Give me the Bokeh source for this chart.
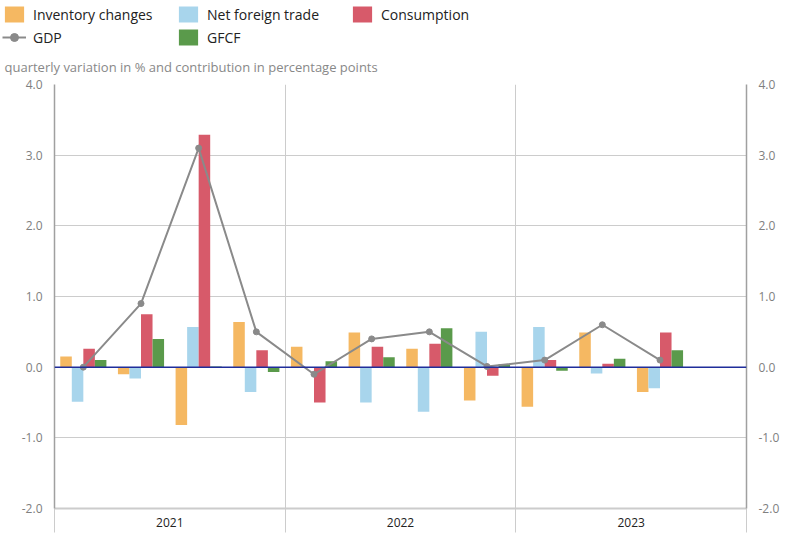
from bokeh.plotting import figure
from bokeh.layouts import column
from bokeh.models import (Range1d, FixedTicker, LinearAxis, Span, Legend, LegendItem,
                          Label, ColumnDataSource, NumeralTickFormatter, CustomJSTickFormatter)
from bokeh.transform import dodge
from bokeh.embed import file_html
from bokeh.resources import INLINE
import numpy as np

# ---- data ----
years = ["2021", "2022", "2023"]
quarters = ["2021-Q1", "2021-Q2", "2021-Q3", "2021-Q4",
            "2022-Q1", "2022-Q2", "2022-Q3", "2022-Q4",
            "2023-Q1", "2023-Q2", "2023-Q3"]
inventory = [0.15, -0.10, -0.82, 0.64, 0.29, 0.49, 0.26, -0.47, -0.56, 0.49, -0.35]
net_foreign = [-0.49, -0.16, 0.57, -0.35, 0.00, -0.50, -0.63, 0.50, 0.57, -0.09, -0.30]
consumption = [0.26, 0.75, 3.29, 0.24, -0.50, 0.29, 0.33, -0.12, 0.10, 0.05, 0.49]
gfcf = [0.10, 0.40, 0.01, -0.07, 0.085, 0.14, 0.55, 0.04, -0.05, 0.12, 0.24]
gdp = [0.0, 0.9, 3.1, 0.5, -0.1, 0.4, 0.5, 0.01, 0.1, 0.6, 0.1]
y_ticks = [-2, -1, 0, 1, 2, 3, 4]
series_names = ["Inventory changes", "Net foreign trade", "Consumption", "GDP", "GFCF"]
subtitle = "quarterly variation in % and contribution in percentage points"

FONT = "Open Sans"
C_INV = "#F5B862"
C_NFT = "#A8D5EC"
C_CON = "#D75A6A"
C_GFCF = "#5A9A4B"
C_GDP = "#8A8A8A"
GRID = "#CCCCCC"

W = 796
TOP_H = 76
MAIN_H = 472
BL, BR = 54, 50

x = np.arange(len(quarters)) + 0.5
src = ColumnDataSource(dict(x=x, inv=inventory, nft=net_foreign, con=consumption,
                            gfcf=gfcf, gdp=gdp))

# ---------------- main chart ----------------
n_q = 4 * len(years)
p = figure(width=W, height=MAIN_H, output_backend="svg", toolbar_location=None,
           x_range=Range1d(0, n_q), y_range=Range1d(min(y_ticks), max(y_ticks)),
           min_border_left=BL, min_border_right=BR, min_border_top=8,
           min_border_bottom=40)
p.outline_line_color = None

bw = 0.2
p.vbar(x=dodge('x', -0.3), top='inv', width=bw, source=src, fill_color=C_INV, line_color=None)
p.vbar(x=dodge('x', -0.1), top='nft', width=bw, source=src, fill_color=C_NFT, line_color=None)
p.vbar(x=dodge('x', 0.1), top='con', width=bw, source=src, fill_color=C_CON, line_color=None)
p.vbar(x=dodge('x', 0.3), top='gfcf', width=bw, source=src, fill_color=C_GFCF, line_color=None)

p.add_layout(Span(location=0, dimension='width', line_color="#1F2D9A", line_width=1.5))

p.line('x', 'gdp', source=src, line_color=C_GDP, line_width=2)
p.scatter('x', 'gdp', source=src, size=6, fill_color=C_GDP, line_color=C_GDP)

# grids
p.ygrid.ticker = FixedTicker(ticks=y_ticks)
p.ygrid.grid_line_color = GRID
p.xgrid.ticker = FixedTicker(ticks=list(range(0, n_q + 1, 4)))
p.xgrid.grid_line_color = GRID

# y axes
def style_y(ax):
    ax.ticker = FixedTicker(ticks=y_ticks)
    ax.formatter = NumeralTickFormatter(format="0.0")
    ax.major_label_text_font = FONT
    ax.major_label_text_font_size = "12px"
    ax.major_label_text_color = "#808080"
    ax.major_tick_line_color = None
    ax.minor_tick_line_color = None
    ax.axis_line_color = "#A0A0A0"
    ax.axis_line_width = 1.5
    ax.major_label_standoff = 6

style_y(p.yaxis[0])
right = LinearAxis()
style_y(right)
p.add_layout(right, "right")

# x axis: year labels at the centre of each year, separators as long minor ticks
xa = p.xaxis[0]
centers = [4 * i + 2 for i in range(len(years))]
xa.ticker = FixedTicker(ticks=centers, minor_ticks=list(range(0, n_q + 1, 4)))
xa.formatter = CustomJSTickFormatter(args=dict(years=years),
                                     code="return years[Math.floor(tick / 4)];")
xa.major_tick_line_color = None
xa.minor_tick_out = 24
xa.minor_tick_in = 0
xa.minor_tick_line_color = GRID
xa.axis_line_color = GRID
xa.axis_line_width = 2
xa.major_label_text_font = FONT
xa.major_label_text_font_size = "12px"
xa.major_label_text_color = "#222222"
xa.major_label_standoff = -15

# ---------------- legend + subtitle strip ----------------
t = figure(width=W, height=TOP_H, output_backend="svg", toolbar_location=None,
           x_range=Range1d(0, W), y_range=Range1d(0, TOP_H),
           x_axis_type=None, y_axis_type=None,
           min_border_left=0, min_border_right=0, min_border_top=0, min_border_bottom=0)
t.outline_line_color = None
t.xgrid.visible = False
t.ygrid.visible = False

proxy = ColumnDataSource(dict(x=[np.nan], y=[np.nan], top=[np.nan]))
l_inv = t.vbar(x='x', top='top', width=1, source=proxy, fill_color=C_INV, line_color=None)
l_nft = t.vbar(x='x', top='top', width=1, source=proxy, fill_color=C_NFT, line_color=None)
l_con = t.vbar(x='x', top='top', width=1, source=proxy, fill_color=C_CON, line_color=None)
l_line = t.line(x='x', y='y', source=proxy, line_color=C_GDP, line_width=2)
l_pts = t.scatter(x='x', y='y', source=proxy, size=6, fill_color=C_GDP, line_color=C_GDP)
l_gfcf = t.vbar(x='x', top='top', width=1, source=proxy, fill_color=C_GFCF, line_color=None)

legend = Legend(items=[
    LegendItem(label=series_names[0], renderers=[l_inv]),
    LegendItem(label=series_names[1], renderers=[l_nft]),
    LegendItem(label=series_names[2], renderers=[l_con]),
    LegendItem(label=series_names[3], renderers=[l_line, l_pts]),
    LegendItem(label=series_names[4], renderers=[l_gfcf]),
], orientation="horizontal", ncols=3, location=(2, TOP_H - 4 - 43),
    glyph_width=24, glyph_height=20, label_width=140, label_height=20,
    label_standoff=7, spacing=3, padding=0, margin=0,
    border_line_color=None, background_fill_alpha=0,
    label_text_font=FONT, label_text_font_size="14px", label_text_color="#222222")
t.add_layout(legend)

t.add_layout(Label(x=4, y=10, text=subtitle, text_font=FONT, text_font_size="13px",
                   text_color="#888888", text_baseline="middle", text_align="left"))

layout = column(column(t), p, spacing=0)
open("out.html", "w").write(file_html(layout, INLINE))
